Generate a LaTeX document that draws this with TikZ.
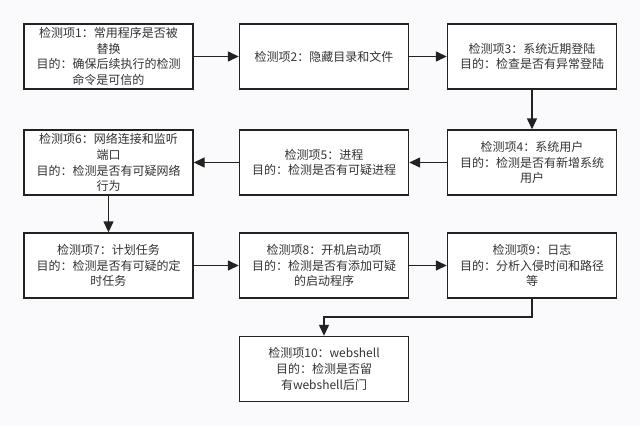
\documentclass[tikz,border=0pt]{standalone}
\usepackage{fontspec}
\setmainfont{Noto Sans CJK SC}
\usetikzlibrary{arrows.meta}
\definecolor{bg}{HTML}{FAFAFC}
\definecolor{ln}{HTML}{222222}
\definecolor{tx}{HTML}{333333}
\tikzset{
  stepbox/.style={draw=ln, line width=1.4pt, fill=white, minimum width=169pt, minimum height=65pt,
    inner sep=0pt, align=center, text=tx, font=\fontsize{12pt}{15.8pt}\selectfont},
  conn/.style={draw=ln, line width=1.4pt, -{Triangle[length=11pt,width=10pt]}}
}
\begin{document}
\begin{tikzpicture}[x=1pt,y=-1pt]
\fill[bg] (0,0) rectangle (640,426);
\useasboundingbox (0,0) rectangle (640,426);
\node[stepbox] (b1) at (108.5,56.5) {检测项1：常用程序是否被\\替换\\目的：确保后续执行的检测\\命令是可信的};
\node[stepbox] (b2) at (324,56.5) {检测项2：隐藏目录和文件};
\node[stepbox] (b3) at (532,56.5) {检测项3：系统近期登陆\\目的：检查是否有异常登陆};
\node[stepbox] (b4) at (532,162.5) {检测项4：系统用户\\目的：检测是否有新增系统\\用户};
\node[stepbox] (b5) at (324,162.5) {检测项5：进程\\目的：检测是否有可疑进程};
\node[stepbox] (b6) at (108.5,162.5) {检测项6：网络连接和监听\\端口\\目的：检测是否有可疑网络\\行为};
\node[stepbox] (b7) at (108.5,265.5) {检测项7：计划任务\\目的：检测是否有可疑的定\\时任务};
\node[stepbox] (b8) at (324,265.5) {检测项8：开机启动项\\目的：检测是否有添加可疑\\的启动程序};
\node[stepbox] (b9) at (532,265.5) {检测项9：日志\\目的：分析入侵时间和路径\\等};
\node[stepbox] (b10) at (324,369) {检测项10：webshell\\目的：检测是否留\\有webshell后门};
\draw[conn] (b1) -- (b2);
\draw[conn] (b2) -- (b3);
\draw[conn] (b3) -- (b4);
\draw[conn] (b4) -- (b5);
\draw[conn] (b5) -- (b6);
\draw[conn] (b6) -- (b7);
\draw[conn] (b7) -- (b8);
\draw[conn] (b8) -- (b9);
\coordinate (k1) at (532,317);
\coordinate (k2) at (324,317);
\draw[conn] (b9.south) -- (k1) -- (k2) -- (b10.north);
\end{tikzpicture}
\end{document}
